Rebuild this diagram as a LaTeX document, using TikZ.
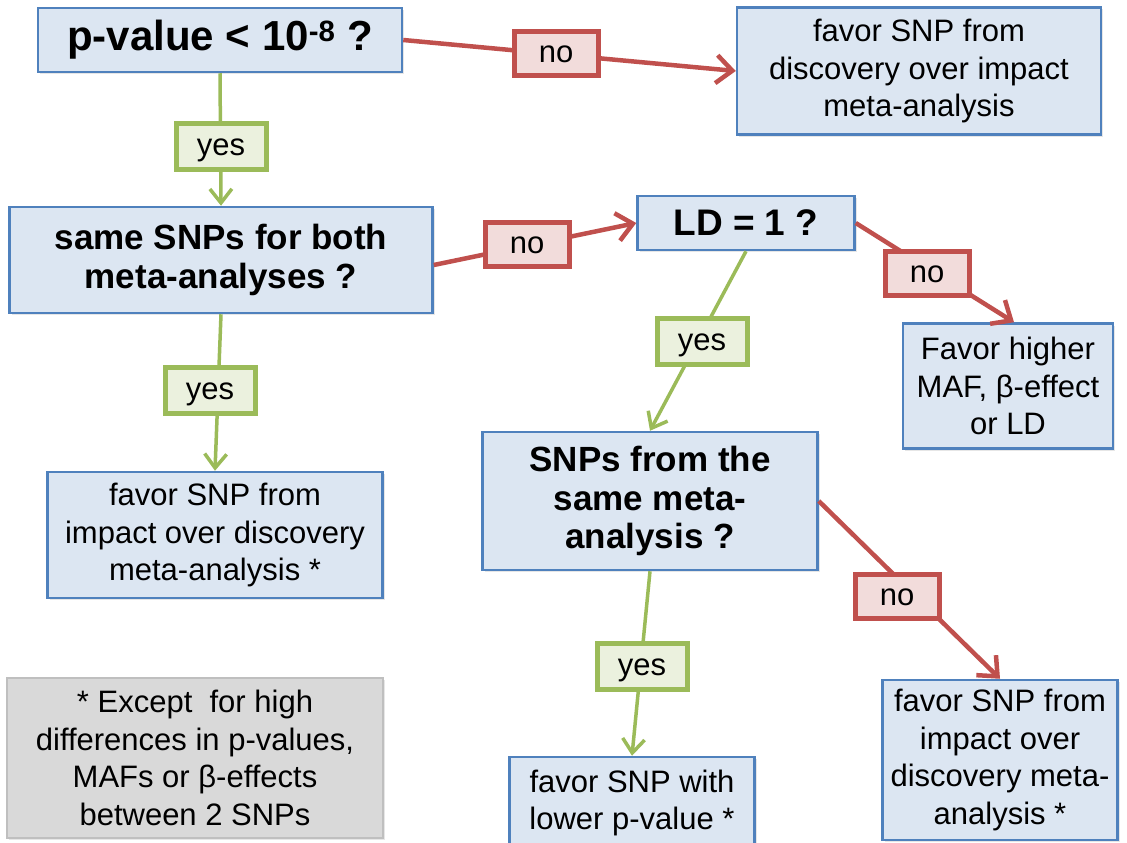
\documentclass[tikz,border=0pt]{standalone}
\usepackage{fontspec}
\setmainfont{Liberation Sans}
\usetikzlibrary{arrows.meta,shadows,calc}
\definecolor{boxfill}{HTML}{DCE6F2}
\definecolor{boxline}{HTML}{4F81BD}
\definecolor{redline}{HTML}{C0504D}
\definecolor{redfill}{HTML}{F2DCDB}
\definecolor{greenline}{HTML}{9BBB59}
\definecolor{greenfill}{HTML}{EBF1DE}
\definecolor{grayfill}{HTML}{D9D9D9}
\definecolor{grayline}{HTML}{BFBFBF}
\tikzset{
  body/.style={font=\fontsize{31}{37.5}\selectfont},
  boldq/.style={font=\fontsize{35}{38.5}\selectfont\bfseries},
  shad/.style={drop shadow={shadow xshift=2pt, shadow yshift=-2pt, opacity=0.2}},
  bluebox/.style={draw=boxline, fill=boxfill, line width=2.5pt, align=center, inner sep=0pt, shad},
  graybox/.style={draw=grayline, fill=grayfill, line width=2.5pt, align=center, inner sep=0pt, shad},
  nolabel/.style={draw=redline, fill=redfill, line width=5pt, minimum width=84pt, minimum height=44pt,
    font=\fontsize{31}{36}\selectfont, inner sep=0pt, text height=23pt, text depth=5pt, shad},
  yeslabel/.style={draw=greenline, fill=greenfill, line width=5pt, minimum width=90pt, minimum height=46pt,
    font=\fontsize{31}{36}\selectfont, inner sep=0pt, text height=23pt, text depth=5pt, shad},
  noarrow/.style={draw=redline, line width=4.5pt, -{Straight Barb[length=16pt, width=28pt]}},
  yesarrow/.style={draw=greenline, line width=3.5pt, -{Straight Barb[length=14pt, width=22pt]}}
}
\begin{document}
\begin{tikzpicture}[x=1pt, y=-1pt]
\useasboundingbox (0,0) rectangle (1127,843);
% boxes
\node[bluebox, minimum width=364pt, minimum height=64pt, font=\fontsize{42}{46}\selectfont\bfseries]
  (pval) at (220,40) {p-value < 10\textsuperscript{-8} ?};
\node[bluebox, body, minimum width=364pt, minimum height=127pt] (res1) at (919,71)
  {favor SNP from\\discovery over impact\\meta-analysis};
\node[bluebox, boldq, minimum width=423pt, minimum height=106pt] (same) at (221,260)
  {same SNPs for both\\meta-analyses ?};
\node[bluebox, minimum width=217pt, minimum height=54pt, font=\fontsize{37}{40}\selectfont\bfseries] (ld) at (746,223)
  {LD = 1 ?};
\node[bluebox, body, minimum width=210pt, minimum height=125pt] (favor) at (1008,386)
  {Favor higher\\MAF, β-effect\\or LD};
\node[bluebox, boldq, minimum width=335pt, minimum height=138pt] (snps) at (650,501)
  {SNPs from the\\same meta-\\analysis ?};
\node[bluebox, body, minimum width=235pt, minimum height=160pt] (imp2) at (1000,760)
  {favor SNP from\\impact over\\discovery meta-\\analysis *};
\node[bluebox, body, minimum width=245pt, minimum height=92pt] (lowp) at (632,803)
  {favor SNP with\\lower p-value *};
\node[bluebox, body, minimum width=335pt, minimum height=126pt] (imp1) at (215,535)
  {favor SNP from\\impact over discovery\\meta-analysis *};
\node[graybox, body, minimum width=376pt, minimum height=160pt] (note) at (195,758)
  {* Except~ for high\\differences in p-values,\\MAFs or β-effects\\between 2 SNPs};
% connectors
\draw[noarrow] (pval.east) -- (res1.west);
\draw[yesarrow] (pval.south) -- (same.north);
\draw[noarrow] ($(same.east)+(0,5)$) -- (ld.west);
\draw[noarrow] (ld.east) -- ($(favor.north)+(6,0)$);
\draw[yesarrow] (ld.south) -- (snps.north);
\draw[yesarrow] (same.south) -- (imp1.north);
\draw[noarrow] (snps.east) -- (imp2.north);
\draw[yesarrow] (snps.south) -- (lowp.north);
% labels
\node[nolabel] (no1) at (556,54) {no};
\node[yeslabel] (yes1) at (221,146) {yes};
\node[nolabel] (no2) at (527,244) {no};
\node[nolabel] (no3) at (927,273) {no};
\node[yeslabel] (yes2) at (702,341) {yes};
\node[yeslabel] (yes4) at (210,390) {yes};
\node[nolabel] (no4) at (897,596) {no};
\node[yeslabel] (yes3) at (642,666) {yes};
\end{tikzpicture}
\end{document}
